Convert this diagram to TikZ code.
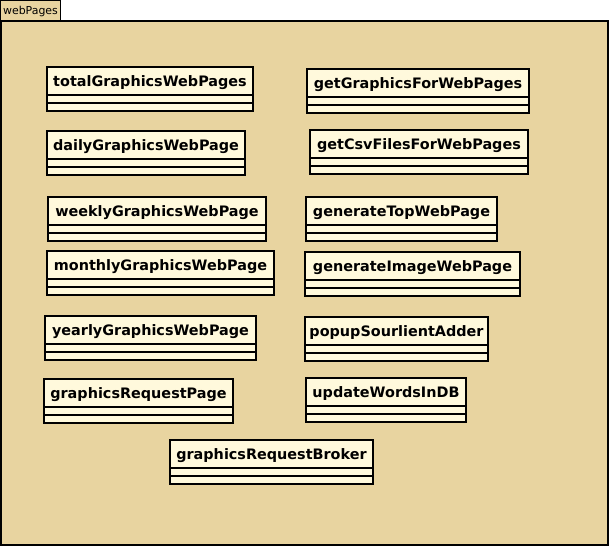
\documentclass[tikz,border=0pt]{standalone}
\usepackage{fontspec}
\setmainfont{DejaVu Sans}
\definecolor{pkgfill}{HTML}{E8D4A0}
\definecolor{clsfill}{HTML}{FFF9DC}
\tikzset{
  pkgbody/.style={draw=black, line width=1.5pt, fill=pkgfill},
  pkgtab/.style={draw=black, line width=0.75pt, fill=pkgfill},
  pkglabel/.style={inner sep=0pt, font=\fontsize{8.2pt}{9pt}\selectfont},
  clsbox/.style={draw=black, line width=1.5pt, fill=clsfill},
  clsline/.style={draw=black, line width=1.5pt},
  clsname/.style={inner sep=0pt, font=\bfseries\fontsize{10.8pt}{12pt}\selectfont},
}
\newcommand\umlclass[5]{%
  \draw[clsbox] (#2,#3) rectangle (#4,#3+44);
  \draw[clsline] (#2,#3+28) -- (#4,#3+28);
  \draw[clsline] (#2,#3+36) -- (#4,#3+36);
  \node[clsname] (#1) at ({(#2+#4)/2},#3+15.5) {#5};
}
\begin{document}
\begin{tikzpicture}[x=0.75pt,y=-0.75pt]
\useasboundingbox (0,0) rectangle (610,547);
\fill[white] (0,0) rectangle (610,547);
\draw[pkgtab] (0.5,0.5) rectangle (60.5,21);
\node[pkglabel] (pkgname) at (30.5,11) {webPages};
\draw[pkgbody] (1,21) rectangle (608,545);
\umlclass{c1}{47}{67}{253}{totalGraphicsWebPages}
\umlclass{c2}{47}{131}{245}{dailyGraphicsWebPage}
\umlclass{c3}{48}{197}{266}{weeklyGraphicsWebPage}
\umlclass{c4}{47}{251}{274}{monthlyGraphicsWebPage}
\umlclass{c5}{45}{316}{256}{yearlyGraphicsWebPage}
\umlclass{c6}{44}{379}{233}{graphicsRequestPage}
\umlclass{c7}{170}{440}{373}{graphicsRequestBroker}
\umlclass{c8}{307}{69}{529}{getGraphicsForWebPages}
\umlclass{c9}{310}{130}{528}{getCsvFilesForWebPages}
\umlclass{c10}{306}{197}{497}{generateTopWebPage}
\umlclass{c11}{305}{252}{520}{generateImageWebPage}
\umlclass{c12}{305}{317}{488}{popupSourlientAdder}
\umlclass{c13}{306}{378}{466}{updateWordsInDB}
\end{tikzpicture}
\end{document}
